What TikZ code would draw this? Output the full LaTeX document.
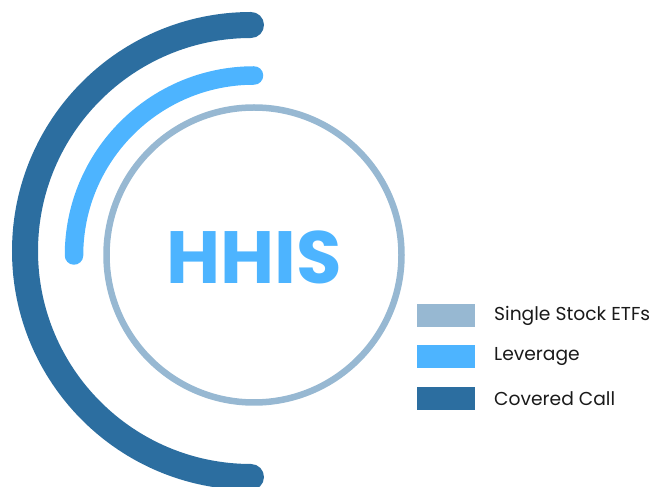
\documentclass[tikz,border=0pt]{standalone}
\usepackage{fontspec}
\setmainfont{Poppins}
\definecolor{etfblue}{RGB}{151,184,210}
\definecolor{levblue}{RGB}{77,180,255}
\definecolor{ccblue}{RGB}{44,110,160}
\definecolor{labelink}{RGB}{26,26,26}
\begin{document}
\begin{tikzpicture}[x=1pt,y=1pt,
  ring/.style={line width=#1, line cap=round},
  swatch/.style={fill=#1, draw=none, minimum width=58pt, minimum height=23pt, inner sep=0pt},
  legendtext/.style={anchor=west, inner sep=0pt, text=labelink, font=\fontsize{18.7}{20}\selectfont}]
  \useasboundingbox (0,0) rectangle (667,487);

  % inner ring: single stock ETFs
  \draw[etfblue, line width=6.5pt] (254,232) circle (147.5);
  % quarter arc: leverage
  \draw[levblue, ring=18.5pt] (254,411.5) arc[start angle=90, end angle=180, radius=180];
  % half arc: covered call
  \draw[ccblue, ring=26pt] (251,462) arc[start angle=90, end angle=270, radius=226];

  \node[text=levblue, font=\fontsize{74}{74}\bfseries\selectfont, inner sep=0pt] (title) at (254,230) {HHIS};

  % legend
  \node[swatch=etfblue] (k1) at (446,171.5) {};
  \node[swatch=levblue] (k2) at (446,130.5) {};
  \node[swatch=ccblue]  (k3) at (446,88.5) {};
  \node[legendtext] (t1) at (494,171.5) {Single Stock ETFs};
  \node[legendtext] (t2) at (494,130.5) {Leverage};
  \node[legendtext] (t3) at (494,88.5) {Covered Call};
\end{tikzpicture}
\end{document}
